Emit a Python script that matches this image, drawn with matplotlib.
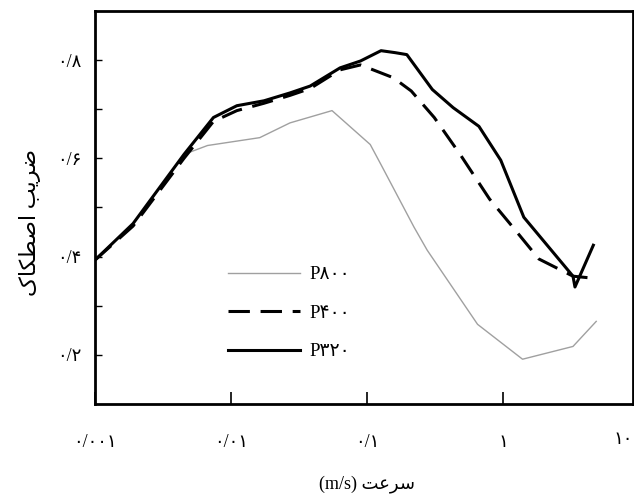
import matplotlib
matplotlib.use("Agg")
import matplotlib.pyplot as plt

plt.rcParams['font.family'] = ['Liberation Serif', 'DejaVu Sans']

# speed (m/s) and friction coefficient
x_p320 = [0.001, 0.0019, 0.0045, 0.0074, 0.011, 0.0174, 0.027, 0.038, 0.063, 0.089,
          0.126, 0.16, 0.195, 0.30, 0.427, 0.66, 0.955, 1.41, 3.24, 3.35, 4.57]
y_p320 = [0.393, 0.467, 0.608, 0.683, 0.707, 0.717, 0.733, 0.747, 0.784, 0.798,
          0.819, 0.815, 0.811, 0.74, 0.703, 0.665, 0.596, 0.48, 0.36, 0.338, 0.423]

x_p400 = [0.001, 0.0019, 0.0045, 0.0074, 0.011, 0.0174, 0.027, 0.038, 0.063, 0.089,
          0.155, 0.21, 0.31, 0.48, 0.79, 1.17, 1.82, 3.24, 4.9]
y_p400 = [0.393, 0.462, 0.600, 0.675, 0.697, 0.712, 0.728, 0.742, 0.78, 0.79,
          0.764, 0.737, 0.683, 0.608, 0.517, 0.46, 0.395, 0.36, 0.355]

x_p800 = [0.001, 0.0019, 0.0045, 0.0067, 0.0162, 0.027, 0.055, 0.105, 0.126, 0.22,
          0.275, 0.645, 1.38, 3.24, 4.8]
y_p800 = [0.393, 0.467, 0.608, 0.626, 0.642, 0.672, 0.697, 0.628, 0.587, 0.46,
          0.413, 0.262, 0.191, 0.217, 0.268]

labels = ['P۸۰۰', 'P۴۰۰', 'P۳۲۰']
xticks = [0.001, 0.01, 0.1, 1]
xtick_labels = ['۰/۰۰۱', '۰/۰۱', '۰/۱', '۱']
last_xlabel = '۱۰'
yticks = [0.2, 0.4, 0.6, 0.8]
ytick_labels = ['۰/۲', '۰/۴', '۰/۶', '۰/۸']

# Persian text in presentation forms, visual order (matplotlib does no shaping)
ylabel = 'ﮎﺎﮑﻄﺻﺍ ﺐﯾﺮﺿ'
xlabel = '(m/s) ﺖﻋﺮﺳ'

fig = plt.figure(figsize=(6.34, 4.95), dpi=100)
ax = fig.add_axes([0.150, 0.184, 0.848, 0.794])

ax.plot(x_p800, y_p800, color='#a0a0a0', lw=1.0, label=labels[0])
ax.plot(x_p400, y_p400, color='black', lw=2.2, dashes=(7, 3.5), label=labels[1])
ax.plot(x_p320, y_p320, color='black', lw=2.2, label=labels[2])

ax.set_xscale('log')
ax.set_xlim(0.001, 8.9)
ax.set_ylim(0.1, 0.9)

ax.set_xticks(xticks)
ax.set_xticklabels(xtick_labels, fontsize=13)
ax.minorticks_off()
ax.set_yticks(yticks)
ax.set_yticklabels(ytick_labels, fontsize=13)
ax.set_yticks([0.3, 0.5, 0.7], minor=True)
ax.tick_params(axis='x', direction='in', length=9, width=1.2, pad=22)
ax.tick_params(axis='y', which='both', direction='in', length=5, width=1, pad=10)

# "10" label sits at the right edge of the picture, partly past the axes
fig.text(633 / 634, 1 - 439 / 495, last_xlabel, fontsize=13, ha='right', va='center')

for s in ax.spines.values():
    s.set_linewidth(2)

fig.text(30 / 634, 1 - 223 / 495, ylabel, fontsize=16, rotation=90,
         ha='center', va='center')
fig.text(367 / 634, 1 - 484 / 495, xlabel, fontsize=13, ha='center', va='center')

ax.legend(loc='upper left', bbox_to_anchor=(0.247, 0.351), frameon=False,
          fontsize=13.5, handlelength=3.84, handletextpad=0.53, labelspacing=1.15,
          borderpad=0, borderaxespad=0)

fig.savefig('out.png', dpi=100)
